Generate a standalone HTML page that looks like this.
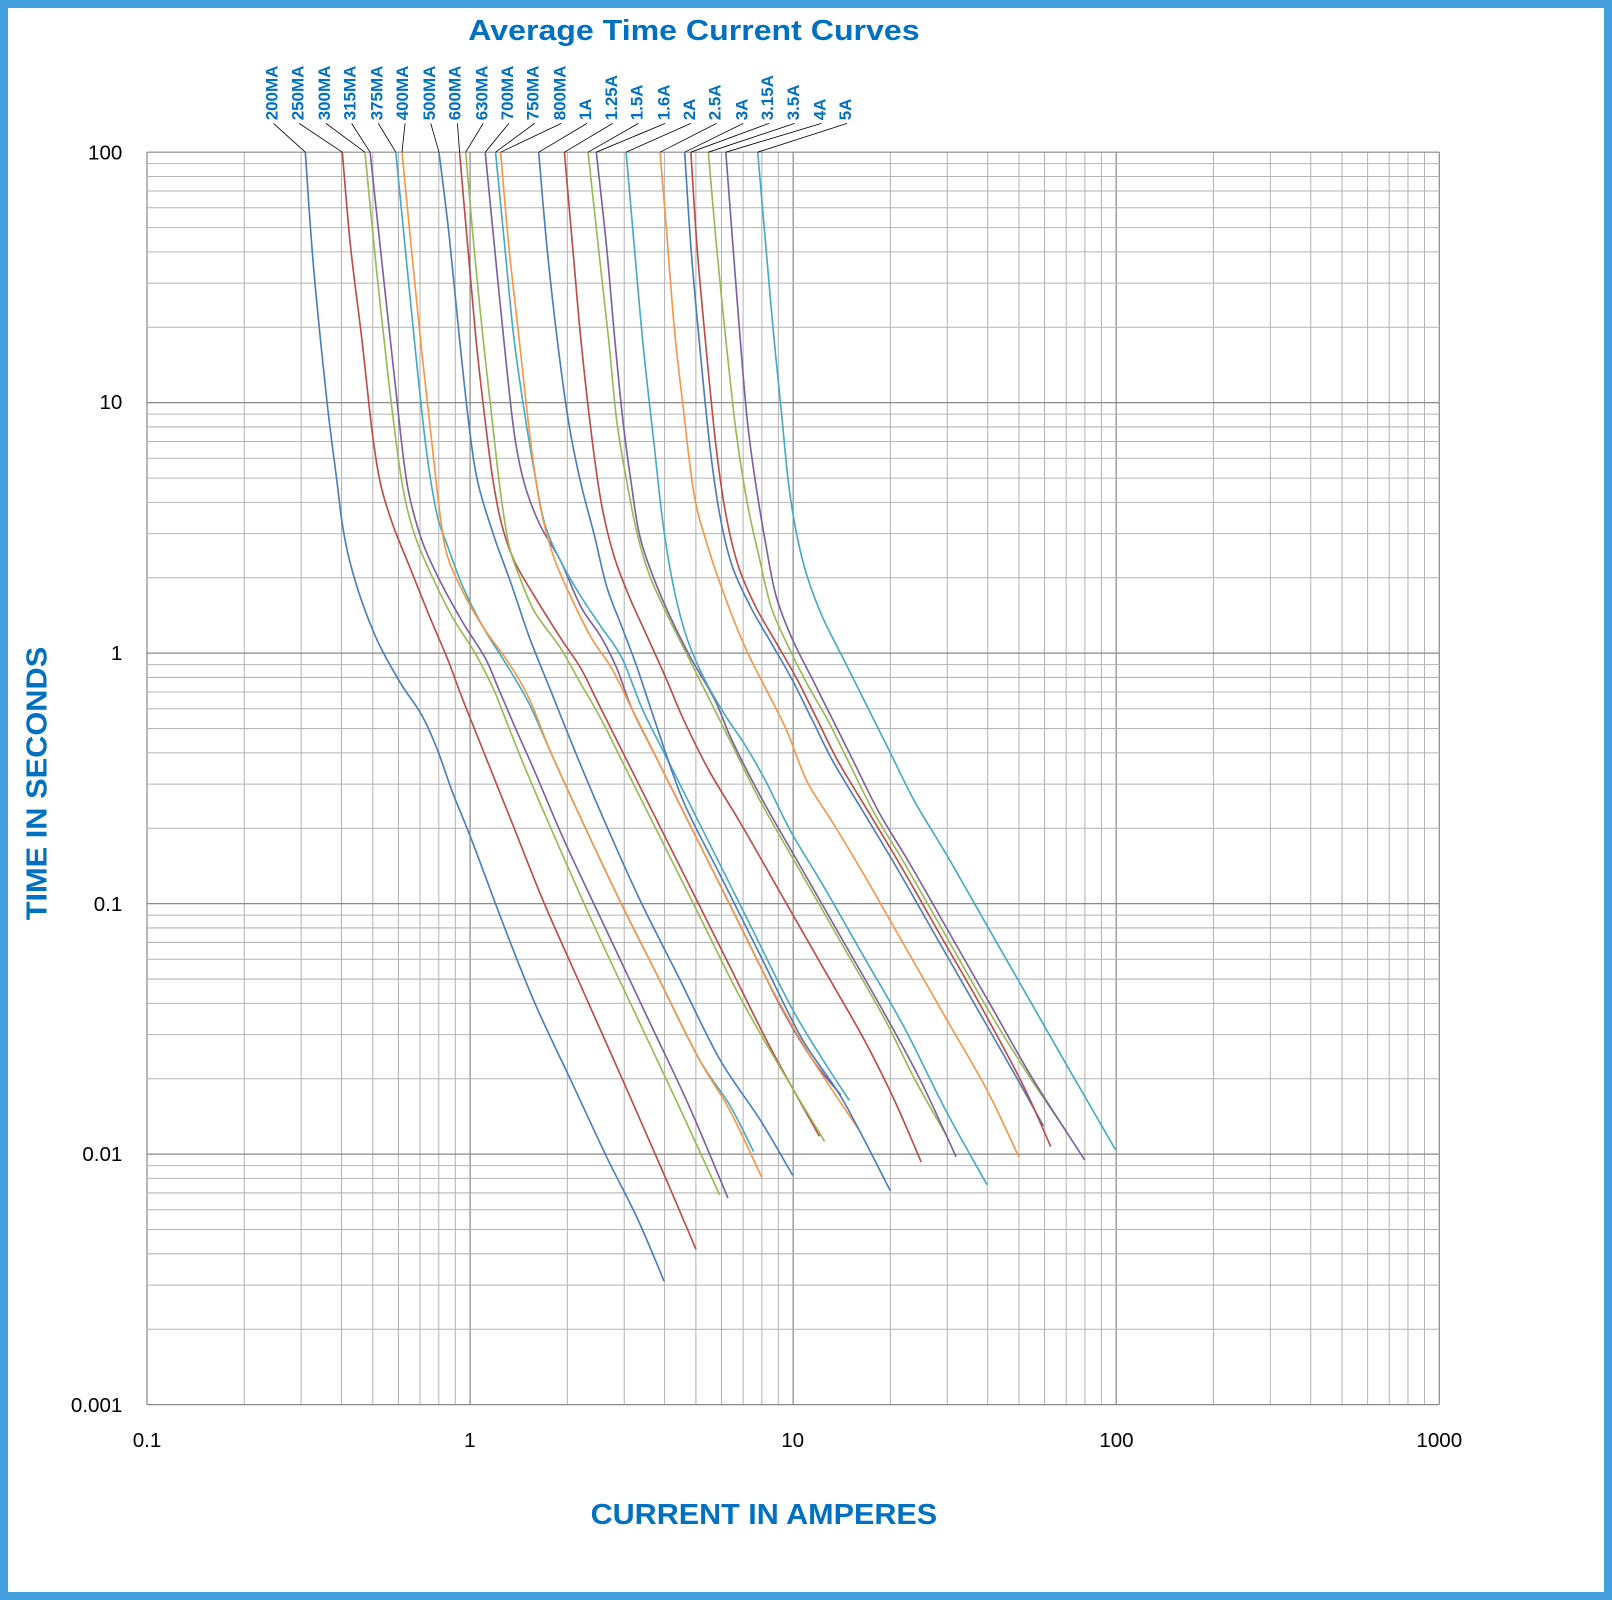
<!DOCTYPE html>
<html><head><meta charset="utf-8"><style>
html,body{margin:0;padding:0;background:#fff}
svg{display:block}
text{font-family:"Liberation Sans",sans-serif}
</style></head><body>
<svg id="s" width="1612" height="1600" viewBox="0 0 1568 1556" preserveAspectRatio="none" xmlns="http://www.w3.org/2000/svg">
<rect x="0" y="0" width="1568" height="1556" fill="#fff"/>
<rect x="3.9" y="3.9" width="1560.2" height="1548.2" fill="none" stroke="#44A0DC" stroke-width="7.8"/>
<g id="grid"></g>
<g id="curves" fill="none" stroke-width="1.6" stroke-linejoin="round"></g>
<g id="leaders" stroke="#000" stroke-width="0.8"></g>
<text x="675" y="39" text-anchor="middle" font-size="28" font-weight="bold" fill="#0070C0" textLength="439" lengthAdjust="spacingAndGlyphs">Average Time Current Curves</text>
<text x="743" y="1482" text-anchor="middle" font-size="28" font-weight="bold" fill="#0070C0" textLength="337" lengthAdjust="spacingAndGlyphs">CURRENT IN AMPERES</text>
<text transform="translate(45,762) rotate(-90)" text-anchor="middle" font-size="28" font-weight="bold" fill="#0070C0" textLength="266" lengthAdjust="spacingAndGlyphs">TIME IN SECONDS</text>
<g font-size="20" fill="#000" text-anchor="end">
<text x="119" y="155">100</text>
<text x="119" y="398">10</text>
<text x="119" y="642">1</text>
<text x="119" y="886">0.1</text>
<text x="119" y="1129">0.01</text>
<text x="119" y="1373">0.001</text>
</g>
<g font-size="20" fill="#000" text-anchor="middle">
<text x="143" y="1407">0.1</text>
<text x="457" y="1407">1</text>
<text x="771" y="1407">10</text>
<text x="1086" y="1407">100</text>
<text x="1400" y="1407">1000</text>
</g>
<g font-size="16.5" font-weight="bold" fill="#0070C0">
<text transform="translate(270,117) rotate(-90)">200MA</text>
<text transform="translate(295,117) rotate(-90)">250MA</text>
<text transform="translate(321,117) rotate(-90)">300MA</text>
<text transform="translate(346,117) rotate(-90)">315MA</text>
<text transform="translate(372,117) rotate(-90)">375MA</text>
<text transform="translate(397,117) rotate(-90)">400MA</text>
<text transform="translate(423,117) rotate(-90)">500MA</text>
<text transform="translate(448,117) rotate(-90)">600MA</text>
<text transform="translate(474,117) rotate(-90)">630MA</text>
<text transform="translate(499,117) rotate(-90)">700MA</text>
<text transform="translate(524,117) rotate(-90)">750MA</text>
<text transform="translate(550,117) rotate(-90)">800MA</text>
<text transform="translate(575,117) rotate(-90)">1A</text>
<text transform="translate(600,117) rotate(-90)">1.25A</text>
<text transform="translate(625,117) rotate(-90)">1.5A</text>
<text transform="translate(651,117) rotate(-90)">1.6A</text>
<text transform="translate(676,117) rotate(-90)">2A</text>
<text transform="translate(701,117) rotate(-90)">2.5A</text>
<text transform="translate(727,117) rotate(-90)">3A</text>
<text transform="translate(752,117) rotate(-90)">3.15A</text>
<text transform="translate(777,117) rotate(-90)">3.5A</text>
<text transform="translate(803,117) rotate(-90)">4A</text>
<text transform="translate(828,117) rotate(-90)">5A</text>
</g>
</svg>
<script>
var NS="http://www.w3.org/2000/svg";
function el(p,t,a){var e=document.createElementNS(NS,t);for(var k in a)e.setAttribute(k,a[k]);p.appendChild(e);return e;}
var g=document.getElementById('grid');
var L=143,R=1400,T=148,B=1366,DX=314.25,DY=243.6;
for(var d=0;d<4;d++)for(var m=1;m<10;m++){var x=L+DX*(d+Math.log10(m));
 el(g,'line',{x1:x,y1:T,x2:x,y2:B,stroke:m==1?'#8a8a8a':'#b4b4b4','stroke-width':m==1?1.2:1});}
el(g,'line',{x1:R,y1:T,x2:R,y2:B,stroke:'#8a8a8a','stroke-width':1.2});
for(var d=0;d<5;d++)for(var m=1;m<10;m++){var y=T+DY*(d+1-Math.log10(m));
 el(g,'line',{x1:L,y1:y,x2:R,y2:y,stroke:m==1?'#8a8a8a':'#b4b4b4','stroke-width':m==1?1.2:1});}
el(g,'line',{x1:L,y1:T,x2:R,y2:T,stroke:'#8a8a8a','stroke-width':1.2});
var C=['#4A7EBB','#BE4B48','#98B954','#7D60A0','#46AAC5','#F79646'];
var D=[
[[297,148],[305,260],[318,390],[328,470],[333,510],[340,545],[352,585],[368,625],[390,665],[410,695],[425,728],[440,770],[460,820],[490,900],[520,975],[555,1050],[590,1125],[620,1185],[646,1246]],
[[333,148],[341,240],[352,330],[362,420],[370,470],[382,510],[400,555],[418,600],[435,640],[450,680],[470,730],[500,805],[530,880],[570,970],[610,1060],[645,1140],[677,1215]],
[[355,148],[366,260],[378,370],[388,450],[395,490],[405,525],[420,560],[440,600],[462,635],[480,670],[490,695],[510,745],[540,815],[580,905],[620,990],[660,1075],[700,1162]],
[[360,148],[372,260],[384,370],[393,450],[400,490],[412,530],[428,565],[450,605],[472,640],[485,670],[500,705],[520,750],[550,820],[590,905],[630,990],[670,1075],[708,1165]],
[[385,148],[395,250],[405,350],[415,440],[425,500],[435,530],[450,570],[470,610],[495,650],[515,685],[535,730],[560,785],[600,870],[640,950],[680,1030],[710,1075],[733,1120]],
[[391,148],[400,240],[410,340],[420,430],[428,500],[435,540],[450,575],[470,610],[495,645],[515,680],[535,730],[560,785],[600,870],[640,950],[680,1030],[710,1080],[741,1145]],
[[427,148],[437,230],[447,330],[457,420],[465,470],[480,520],[498,570],[515,620],[535,670],[555,720],[580,780],[620,870],[660,950],[700,1030],[740,1090],[771,1143]],
[[447,148],[455,240],[463,330],[472,410],[480,470],[488,510],[500,545],[520,580],[545,620],[565,650],[580,680],[600,720],[630,780],[670,860],[710,940],[750,1020],[797,1105]],
[[453,148],[461,240],[470,330],[480,420],[487,480],[495,530],[505,560],[520,595],[545,630],[565,665],[585,700],[610,750],[640,810],[680,890],[720,970],[760,1040],[802,1110]],
[[472,148],[480,230],[490,330],[500,420],[510,470],[525,510],[545,545],[565,590],[585,620],[600,650],[615,690],[640,740],[680,820],[720,900],[760,980],[790,1030],[818,1065]],
[[482,148],[492,250],[500,330],[510,400],[520,460],[530,510],[545,545],[565,580],[585,610],[605,640],[625,690],[650,740],[690,820],[730,900],[770,980],[800,1030],[826,1070]],
[[487,148],[495,240],[505,330],[515,420],[525,490],[538,540],[555,580],[575,620],[595,650],[615,690],[640,740],[670,800],[710,880],[750,960],[790,1030],[835,1098]],
[[524,148],[532,240],[542,330],[553,410],[565,470],[578,520],[590,570],[605,610],[620,650],[640,710],[665,780],[700,850],[740,930],[780,1010],[820,1070],[866,1158]],
[[549,148],[557,240],[565,330],[575,420],[585,490],[597,540],[612,580],[630,620],[648,660],[665,700],[690,750],[720,800],[760,870],[800,940],[840,1010],[870,1070],[896,1130]],
[[572,148],[582,240],[592,330],[600,410],[610,470],[620,520],[632,560],[650,600],[670,640],[690,680],[710,720],[740,780],[780,850],[820,920],[860,990],[890,1050],[921,1105]],
[[580,148],[590,240],[598,330],[606,410],[614,470],[622,520],[635,560],[652,600],[672,640],[695,680],[712,720],[740,775],[780,845],[820,915],[860,985],[895,1050],[930,1125]],
[[609,148],[617,240],[626,340],[636,430],[645,510],[655,570],[668,620],[685,660],[705,695],[725,725],[745,760],[770,810],[800,860],[840,930],[880,1000],[920,1080],[960,1152]],
[[642,148],[648,220],[656,320],[665,400],[675,480],[688,530],[705,580],[725,630],[745,670],[765,710],[785,760],[810,800],[840,850],[880,920],[920,990],[960,1060],[991,1125]],
[[666,148],[672,240],[680,330],[690,430],[700,500],[712,550],[730,590],[750,625],[770,660],[790,700],[810,740],[840,790],[870,840],[910,910],[950,980],[990,1050],[1015,1095]],
[[672,148],[678,240],[686,330],[696,430],[706,500],[718,550],[735,590],[755,625],[775,660],[795,700],[815,740],[845,790],[875,840],[915,910],[955,980],[995,1055],[1022,1115]],
[[689,148],[697,240],[706,330],[716,420],[727,490],[738,540],[750,590],[765,625],[785,665],[805,700],[825,740],[850,790],[880,840],[920,910],[960,980],[1000,1045],[1037,1100]],
[[706,148],[713,240],[720,330],[727,410],[735,470],[745,530],[755,580],[770,620],[790,660],[810,700],[830,740],[855,790],[885,840],[925,910],[965,980],[1005,1050],[1055,1128]],
[[737,148],[745,240],[752,320],[760,400],[767,470],[775,520],[785,560],[800,600],[820,640],[845,690],[865,730],[890,780],[920,830],[960,900],[1000,970],[1040,1040],[1085,1118]]
];
var cg=document.getElementById('curves'),lg=document.getElementById('leaders');
var LX=[264,289,315,340,366,392,417,443,468,493,518,544,569,594,619,645,670,695,721,746,771,797,822];
D.forEach(function(p,i){
 var s='M'+p[0][0]+','+p[0][1];
 for(var k=0;k<p.length-1;k++){var p0=p[k>0?k-1:k],p1=p[k],p2=p[k+1],p3=p[k+2<p.length?k+2:k+1];
  var c1x=p1[0]+(p2[0]-p0[0])/6,c1y=p1[1]+(p2[1]-p0[1])/6,c2x=p2[0]-(p3[0]-p1[0])/6,c2y=p2[1]-(p3[1]-p1[1])/6;
  s+=' C'+c1x.toFixed(1)+','+c1y.toFixed(1)+' '+c2x.toFixed(1)+','+c2y.toFixed(1)+' '+p2[0]+','+p2[1];}
 el(cg,'path',{d:s,stroke:C[i%6]});
 el(lg,'line',{x1:LX[i]+2,y1:120,x2:p[0][0],y2:148});
});
</script>
</body></html>
